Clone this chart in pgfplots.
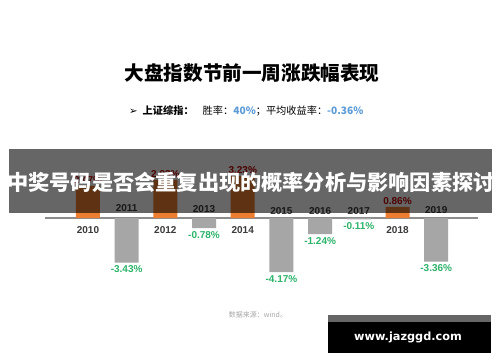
\documentclass[border=0pt]{standalone}
\usepackage{pgfplots}
\pgfplotsset{compat=1.18}
\usepackage{fontspec}
\setmainfont{Liberation Sans}
\newfontfamily\cjk{Noto Sans CJK SC}
\newfontfamily\dejavu{DejaVu Sans}
\newfontfamily\dejavub{DejaVu Sans Bold}
\definecolor{barorange}{HTML}{ED7D31}
\definecolor{bargray}{HTML}{A6A6A6}
\definecolor{posred}{HTML}{C00000}
\definecolor{neggreen}{HTML}{2DB36A}
\definecolor{subblue}{HTML}{5B9BD5}
\definecolor{yeargray}{HTML}{3A3A3A}
\begin{document}
\begin{tikzpicture}
\path[use as bounding box, fill=white] (0,0) rectangle (500bp,362bp);
\begin{axis}[
  at={(45bp,72.5bp)}, anchor=south west,
  scale only axis, width=433bp, height=123.5bp,
  xmin=-1.11, xmax=10.08, ymin=-5.5, ymax=4,
  axis lines=none, clip=false,
  /pgf/number format/assume math mode=true,
]
\addplot[color=bargray!85!black, line width=1.2pt, forget plot] coordinates {(-1.11,0) (10.08,0)};
% positive bars
\addplot[ybar, bar shift=0pt, bar width=0.62, fill=barorange, draw=none,
  nodes near coords={\pgfmathprintnumber[fixed,fixed zerofill,precision=2]{\pgfplotspointmeta}\%},
  every node near coord/.append style={font=\bfseries\fontsize{10bp}{12bp}\selectfont, text=posred, inner sep=2bp}]
  coordinates {(0,2.47) (2,2.93) (4,3.23) (8,0.86)};
% negative bars
\addplot[ybar, bar shift=0pt, bar width=0.62, fill=bargray, draw=none,
  nodes near coords={\pgfmathprintnumber[fixed,fixed zerofill,precision=2]{\pgfplotspointmeta}\%},
  every node near coord/.append style={font=\bfseries\fontsize{10bp}{12bp}\selectfont, text=neggreen, inner sep=3bp}]
  coordinates {(1,-3.43) (3,-0.78) (5,-4.17) (6,-1.24) (7,-0.11) (9,-3.36)};
% year labels (anchored at their south edge)
\addplot[ybar, bar shift=0pt, bar width=0.01, fill=none, draw=none,
  point meta=explicit symbolic, nodes near coords,
  every node near coord/.append style={font=\bfseries\fontsize{10bp}{12bp}\selectfont, text=yeargray, inner sep=2bp}]
  coordinates {(0,-1.4)[2010] (1,0.3)[2011] (2,-1.4)[2012] (3,0.25)[2013] (4,-1.4)[2014]
               (5,0.1)[2015] (6,0.1)[2016] (7,0.1)[2017] (8,-1.4)[2018] (9,0.15)[2019]};
\end{axis}
% title
\node at (252bp,289bp) {\cjk\bfseries\fontsize{19.6bp}{23bp}\selectfont 大盘指数节前一周涨跌幅表现};
% subtitle
\node[anchor=west, inner sep=0pt] at (129bp,251bp) {\fontsize{10.2bp}{12bp}\selectfont{\dejavu ➢}\hspace{5bp}{\cjk\bfseries 上证综指：}\hspace{9bp}{\cjk 胜率：}{\cjk\bfseries\color{subblue}40\%}{\cjk ；平均收益率：}{\cjk\bfseries\color{subblue}-0.36\%}};
% source
\node[text=black!35] at (258bp,47bp) {\cjk\fontsize{7bp}{8bp}\selectfont 数据来源：wind。};
% overlay banner
\fill[black, opacity=0.6] (9bp,149bp) rectangle (492bp,213bp);
\node[text=white, inner sep=0pt] at (251bp,180bp) {\cjk\bfseries\fontsize{21.2bp}{25bp}\selectfont 中奖号码是否会重复出现的概率分析与影响因素探讨};
% watermark
\fill[black!60] (328bp,40bp) rectangle (491bp,47bp);
\fill[black] (328bp,9bp) rectangle (491bp,40bp);
\node[text=white] at (408bp,25bp) {\dejavub\fontsize{11.3bp}{13bp}\selectfont www.jazggd.com};
\end{tikzpicture}
\end{document}
